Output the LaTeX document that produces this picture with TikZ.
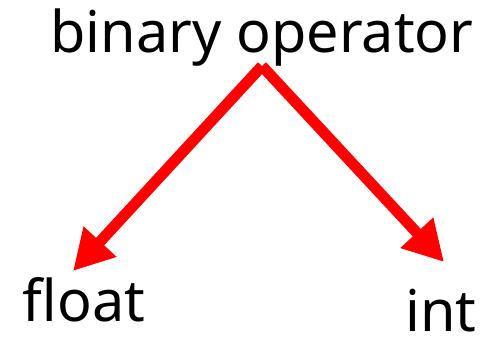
\documentclass[tikz,border=0pt]{standalone}
\usepackage{fontspec}
\setmainfont{Noto Sans}
\usetikzlibrary{arrows.meta}
\begin{document}
\begin{tikzpicture}[x=1pt,y=1pt,
  lbl/.style={inner sep=0pt,anchor=base,font=\fontsize{57.5}{60}\selectfont},
  redarrow/.style={draw=red,line width=11pt,-{Triangle[length=40pt,width=42pt]}}]
\useasboundingbox (0,0) rectangle (484,-340);
\node[lbl] (top) at (262,-52) {binary operator};
\node[lbl] (float) at (84,-321) {float};
\node[lbl] (int) at (441,-331) {int};
\coordinate (apex) at (262,-66);
\coordinate (tipL) at (73,-271);
\coordinate (tipR) at (444,-262);
\draw[redarrow] (apex) -- (tipL);
\draw[redarrow] (apex) -- (tipR);
\end{tikzpicture}
\end{document}
